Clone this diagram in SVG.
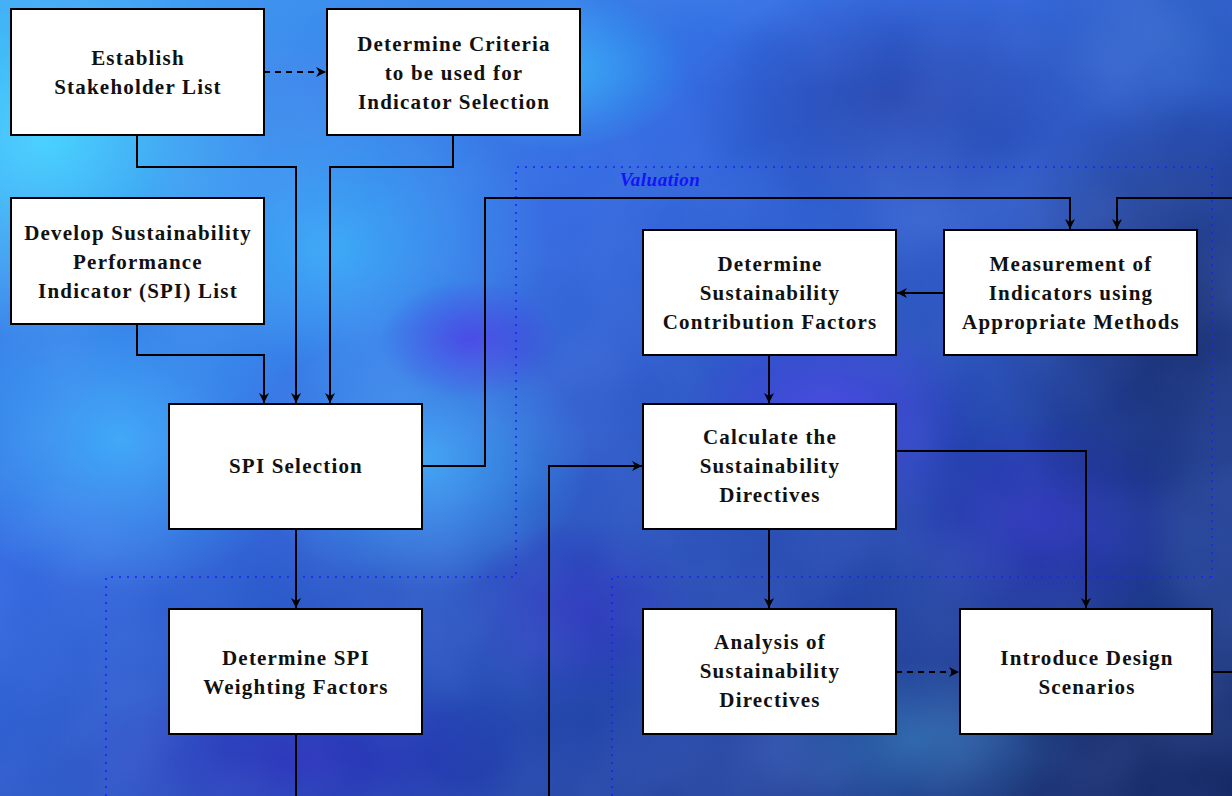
<svg xmlns="http://www.w3.org/2000/svg" width="1232" height="796" viewBox="0 0 1232 796">
  <defs>
    <linearGradient id="bgBase" x1="0" y1="0" x2="1" y2="1">
      <stop offset="0" stop-color="#3aa4f4"/>
      <stop offset="0.35" stop-color="#3168e0"/>
      <stop offset="0.7" stop-color="#2244a8"/>
      <stop offset="1" stop-color="#142a66"/>
    </linearGradient>
    <radialGradient id="glowCyan"><stop offset="0" stop-color="#48d8ff" stop-opacity="0.95"/><stop offset="1" stop-color="#48d8ff" stop-opacity="0"/></radialGradient>
    <radialGradient id="glowLight"><stop offset="0" stop-color="#3cb4fa" stop-opacity="0.85"/><stop offset="1" stop-color="#3cb4fa" stop-opacity="0"/></radialGradient>
    <radialGradient id="glowPurple"><stop offset="0" stop-color="#4a3ae6" stop-opacity="0.8"/><stop offset="1" stop-color="#4a3ae6" stop-opacity="0"/></radialGradient>
    <radialGradient id="glowDeep"><stop offset="0" stop-color="#2a2ab8" stop-opacity="0.8"/><stop offset="1" stop-color="#2a2ab8" stop-opacity="0"/></radialGradient>
    <radialGradient id="glowNavy"><stop offset="0" stop-color="#132660" stop-opacity="0.9"/><stop offset="1" stop-color="#132660" stop-opacity="0"/></radialGradient>
    <radialGradient id="glowDusk"><stop offset="0" stop-color="#2442a8" stop-opacity="0.9"/><stop offset="1" stop-color="#2442a8" stop-opacity="0"/></radialGradient>
    <radialGradient id="glowSky"><stop offset="0" stop-color="#2e62c4" stop-opacity="0.85"/><stop offset="1" stop-color="#2e62c4" stop-opacity="0"/></radialGradient>
    <radialGradient id="glowTeal"><stop offset="0" stop-color="#2a7ab0" stop-opacity="0.6"/><stop offset="1" stop-color="#2a7ab0" stop-opacity="0"/></radialGradient>
    <filter id="clouds" x="0" y="0" width="100%" height="100%">
      <feTurbulence type="fractalNoise" baseFrequency="0.006" numOctaves="3" seed="7"/>
      <feColorMatrix type="matrix" values="0 0 0 0 0.2  0 0 0 0 0.35  0 0 0 0 0.95  0 0 0 0.35 -0.08"/>
    </filter>
    <marker id="arrow" viewBox="0 0 10 10" refX="10" refY="5" markerWidth="11" markerHeight="10" markerUnits="userSpaceOnUse" orient="auto">
      <path d="M0,0 L10,5 L0,10 L3,5 z" fill="#000"/>
    </marker>
    <style>
      .box { fill: #ffffff; stroke: #000000; stroke-width: 2; }
      .label { font-family: "Liberation Serif", "DejaVu Serif", serif; font-weight: bold; font-size: 21px; letter-spacing: 1.2px; fill: #111111; text-anchor: middle; }
      .link { fill: none; stroke: #000000; stroke-width: 2; }
      .dashed { stroke-dasharray: 6 5; }
      .frame { fill: none; stroke: #1f1fff; stroke-width: 1.6; stroke-dasharray: 2 6; }
      .frame-title { font-family: "Liberation Serif", "DejaVu Serif", serif; font-weight: bold; font-style: italic; font-size: 19px; letter-spacing: 0.5px; fill: #1414f5; text-anchor: middle; }
    </style>
  </defs>

  <!-- cloudy blue backdrop -->
  <g id="background">
    <rect width="1232" height="796" fill="url(#bgBase)"/>
    <ellipse cx="40" cy="140" rx="230" ry="200" fill="url(#glowCyan)"/>
    <ellipse cx="330" cy="250" rx="220" ry="170" fill="url(#glowLight)"/>
    <ellipse cx="420" cy="460" rx="170" ry="130" fill="url(#glowLight)"/>
    <ellipse cx="120" cy="440" rx="190" ry="150" fill="url(#glowLight)"/>
    <ellipse cx="470" cy="340" rx="90" ry="60" fill="url(#glowPurple)"/>
    <ellipse cx="560" cy="70" rx="130" ry="80" fill="url(#glowLight)"/>
    <ellipse cx="900" cy="100" rx="220" ry="120" fill="url(#glowDusk)"/>
    <ellipse cx="1170" cy="40" rx="160" ry="100" fill="url(#glowSky)"/>
    <ellipse cx="580" cy="610" rx="120" ry="90" fill="url(#glowDeep)"/>
    <ellipse cx="830" cy="420" rx="150" ry="110" fill="url(#glowPurple)"/>
    <ellipse cx="1040" cy="520" rx="150" ry="110" fill="url(#glowDeep)"/>
    <ellipse cx="1180" cy="320" rx="190" ry="240" fill="url(#glowNavy)"/>
    <ellipse cx="1150" cy="760" rx="260" ry="160" fill="url(#glowNavy)"/>
    <ellipse cx="920" cy="740" rx="160" ry="80" fill="url(#glowTeal)"/>
    <ellipse cx="300" cy="760" rx="240" ry="90" fill="url(#glowDeep)"/>
    <rect width="1232" height="796" filter="url(#clouds)"/>
  </g>

  <!-- dotted grouping frames -->
  <g id="frames">
    <path class="frame" d="M106,796 V577 H516 V167 H1212 V577"/>
    <path class="frame" d="M612,796 V577 H1212"/>
    <text class="frame-title" x="660" y="186">Valuation</text>
  </g>

  <g id="connectors">
    <path class="link dashed" d="M264,72 H326" marker-end="url(#arrow)"/>
    <path class="link" d="M137,135 V167 H296 V403" marker-end="url(#arrow)"/>
    <path class="link" d="M453,135 V167 H330 V403" marker-end="url(#arrow)"/>
    <path class="link" d="M137,324 V355 H264 V403" marker-end="url(#arrow)"/>
    <path class="link" d="M422,466 H485 V198 H1070 V229" marker-end="url(#arrow)"/>
    <path class="link" d="M1232,198 H1117 V229" marker-end="url(#arrow)"/>
    <path class="link" d="M944,293 H897" marker-end="url(#arrow)"/>
    <path class="link" d="M769,355 V403" marker-end="url(#arrow)"/>
    <path class="link" d="M896,451 H1086 V608" marker-end="url(#arrow)"/>
    <path class="link" d="M769,529 V608" marker-end="url(#arrow)"/>
    <path class="link" d="M549,796 V466 H642" marker-end="url(#arrow)"/>
    <path class="link dashed" d="M896,672 H959" marker-end="url(#arrow)"/>
    <path class="link" d="M1212,672 H1232"/>
    <path class="link" d="M296,529 V608" marker-end="url(#arrow)"/>
    <path class="link" d="M296,734 V796"/>
  </g>

  <g id="establish-stakeholders">
    <rect class="box" x="11" y="9" width="253" height="126"/>
    <text class="label" x="138" y="65">Establish</text>
    <text class="label" x="138" y="94">Stakeholder List</text>
  </g>

  <g id="selection-criteria">
    <rect class="box" x="327" y="9" width="253" height="126"/>
    <text class="label" x="454" y="51">Determine Criteria</text>
    <text class="label" x="454" y="80">to be used for</text>
    <text class="label" x="454" y="109">Indicator Selection</text>
  </g>

  <g id="spi-list">
    <rect class="box" x="11" y="198" width="253" height="126"/>
    <text class="label" x="138" y="240">Develop Sustainability</text>
    <text class="label" x="138" y="269">Performance</text>
    <text class="label" x="138" y="298">Indicator (SPI) List</text>
  </g>

  <g id="spi-selection">
    <rect class="box" x="169" y="404" width="253" height="125"/>
    <text class="label" x="296" y="473">SPI Selection</text>
  </g>

  <g id="spi-weighting">
    <rect class="box" x="169" y="609" width="253" height="125"/>
    <text class="label" x="296" y="665">Determine SPI</text>
    <text class="label" x="296" y="694">Weighting Factors</text>
  </g>

  <g id="contribution-factors">
    <rect class="box" x="643" y="230" width="253" height="125"/>
    <text class="label" x="770" y="271">Determine</text>
    <text class="label" x="770" y="300">Sustainability</text>
    <text class="label" x="770" y="329">Contribution Factors</text>
  </g>

  <g id="indicator-measurement">
    <rect class="box" x="944" y="230" width="253" height="125"/>
    <text class="label" x="1071" y="271">Measurement of</text>
    <text class="label" x="1071" y="300">Indicators using</text>
    <text class="label" x="1071" y="329">Appropriate Methods</text>
  </g>

  <g id="calculate-directives">
    <rect class="box" x="643" y="404" width="253" height="125"/>
    <text class="label" x="770" y="444">Calculate the</text>
    <text class="label" x="770" y="473">Sustainability</text>
    <text class="label" x="770" y="502">Directives</text>
  </g>

  <g id="analyse-directives">
    <rect class="box" x="643" y="609" width="253" height="125"/>
    <text class="label" x="770" y="649">Analysis of</text>
    <text class="label" x="770" y="678">Sustainability</text>
    <text class="label" x="770" y="707">Directives</text>
  </g>

  <g id="design-scenarios">
    <rect class="box" x="960" y="609" width="252" height="125"/>
    <text class="label" x="1087" y="665">Introduce Design</text>
    <text class="label" x="1087" y="694">Scenarios</text>
  </g>
</svg>
